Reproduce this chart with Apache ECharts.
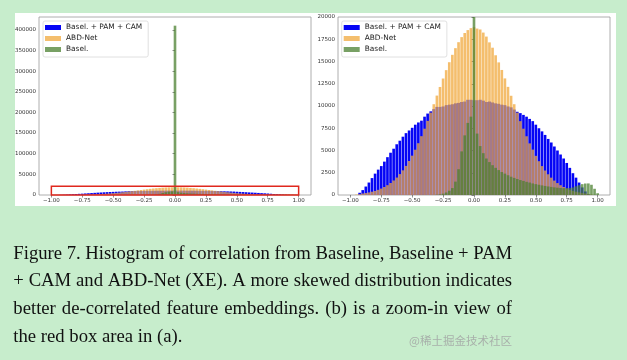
<!DOCTYPE html>
<html>
<head>
<meta charset="utf-8">
<script src="https://cdn.jsdelivr.net/npm/echarts@6/dist/echarts.min.js"></script>
<style>html,body{margin:0;padding:0;background:#c7edcc;}#c{width:627px;height:360px;}</style>
</head>
<body>
<div id="c"></div>
<script>
// ---- data ----
const BIN_FIRST = -1.0;   // centre of first bin
const BIN_W = 0.025;      // bin width
const seriesNames = ['Basel. + PAM + CAM', 'ABD-Net', 'Basel.'];
// counts per bin, bins centred at -1.000, -0.975, ..., 1.000 (81 bins)
const baselPamCam = [
  0, 0, 0, 250, 550, 950, 1400, 1900, 2400, 2850,
  3250, 3750, 4250, 4750, 5200, 5700, 6100, 6550, 6950, 7250,
  7550, 7900, 8150, 8350, 8800, 9150, 9400, 9650, 9900, 9900,
  9950, 10100, 10150, 10200, 10300, 10350, 10450, 10500, 10700, 10700,
  10650,
  10650, 10700, 10600, 10450, 10500, 10400, 10300, 10250, 10150, 10100,
  9950, 9850, 9600, 9350, 9200, 9000, 8800, 8550, 8300, 7900,
  7500, 7150, 6750, 6300, 5900, 5450, 5000, 4550, 4100, 3600,
  3050, 2450, 1950, 1400, 850, 400, 100, 0, 0, 0
];
const abdNet = [
  0, 0, 50, 100, 170, 220, 290, 370, 460, 580,
  725, 900, 1100, 1350, 1630, 1960, 2350, 2770, 3270, 3820,
  4420, 5090, 5820, 6610, 7450, 8330, 9250, 10200, 11170, 12140,
  13090, 14030, 14920, 15750, 16500, 17170, 17740, 18200, 18530, 18750,
  18850,
  18700, 18600, 18250, 17800, 17150, 16550, 15700, 14900, 14050, 13100,
  12150, 11150, 10200, 9250, 8300, 7450, 6600, 5800, 5100, 4400,
  3800, 3250, 2750, 2330, 1950, 1620, 1340, 1100, 900, 720,
  580, 460, 370, 290, 220, 170, 100, 50, 0, 0
];
const basel = [
  0, 0, 0, 0, 0, 0, 0, 0, 0, 0,
  0, 0, 0, 0, 0, 0, 0, 0, 0, 0,
  0, 0, 0, 0, 0, 0, 0, 0, 30, 70,
  150, 280, 480, 780, 1500, 2900, 4900, 6700, 8100, 8800,
  410000,
  6900, 5500, 4700, 4100, 3700, 3350, 3050, 2800, 2580, 2400,
  2220, 2050, 1920, 1800, 1680, 1580, 1480, 1400, 1300, 1220,
  1150, 1080, 1020, 960, 910, 860, 820, 790, 770, 760,
  780, 850, 980, 1100, 1220, 1290, 1300, 1150, 700, 200
];
const redBox = [-1, 1, 0, 21000];   // x0, x1, y0, y1 on panel (a)
const xTicks = [-1, -0.75, -0.5, -0.25, 0, 0.25, 0.5, 0.75, 1];
const yTicksA = [0, 50000, 100000, 150000, 200000, 250000, 300000, 350000, 400000];
const yTicksB = [0, 2500, 5000, 7500, 10000, 12500, 15000, 17500, 20000];
const captionLines = [
  'Figure 7. Histogram of correlation from Baseline, Baseline + PAM',
  '+ CAM and ABD-Net (XE). A more skewed distribution indicates',
  'better de-correlated feature embeddings.  (b) is a zoom-in view of',
  'the red box area in (a).'
];
const watermark = '@稀土掘金技术社区';

// ---- styles ----
const colors = ['#0505f5', 'rgba(240,168,60,0.75)', 'rgba(75,128,48,0.75)'];

function toData(arr) { return arr.map((v, k) => [BIN_FIRST + k * BIN_W, v]); }

function histRender(color) {
  return function (params, api) {
    const c = api.value(0), y = api.value(1);
    if (!y) return null;
    const p0 = api.coord([c - BIN_W / 2, 0]);
    const p1 = api.coord([c + BIN_W / 2, y]);
    const cs = params.coordSys;
    const top = Math.max(p1[1], cs.y);
    return {
      type: 'rect',
      shape: { x: p0[0] + 0.22, y: top, width: p1[0] - p0[0] - 0.44, height: p0[1] - top },
      style: { fill: color }
    };
  };
}

const axisFont = { fontFamily: 'DejaVu Sans', fontSize: 5.5, color: '#333' };
function fmtX(v) { return (v < 0 ? '\u2212' : '') + Math.abs(v).toFixed(2); }

function xAxis(gi) {
  return {
    type: 'value', gridIndex: gi, min: -1.1, max: 1.1,
    axisLine: { show: false }, splitLine: { show: false },
    axisTick: { show: true, customValues: xTicks, length: 2.5, lineStyle: { color: '#444', width: 0.6 } },
    axisLabel: Object.assign({ customValues: xTicks, margin: 3, formatter: fmtX }, axisFont)
  };
}
function yAxis(gi, max, ticks) {
  return {
    type: 'value', gridIndex: gi, min: 0, max: max,
    axisLine: { show: false }, splitLine: { show: false },
    axisTick: { show: true, customValues: ticks, length: 2.5, lineStyle: { color: '#444', width: 0.6 } },
    axisLabel: Object.assign({ customValues: ticks, margin: 3, formatter: v => String(v) }, axisFont)
  };
}

const series = [];
[0, 1].forEach(gi => {
  [baselPamCam, abdNet, basel].forEach((arr, si) => {
    series.push({
      type: 'custom', name: seriesNames[si], xAxisIndex: gi, yAxisIndex: gi,
      itemStyle: { color: colors[si] }, clip: true,
      encode: { x: 0, y: 1 }, data: toData(arr), renderItem: histRender(colors[si]), z: 2 + si
    });
  });
});
series.push({
  type: 'custom', xAxisIndex: 0, yAxisIndex: 0, z: 10,
  data: [redBox], encode: { x: [0, 1], y: [2, 3] },
  renderItem: function (params, api) {
    const a = api.coord([api.value(0), api.value(2)]);
    const b = api.coord([api.value(1), api.value(3)]);
    return { type: 'rect', shape: { x: a[0], y: b[1], width: b[0] - a[0], height: a[1] - b[1] },
      style: { fill: null, stroke: '#e0281e', lineWidth: 1.5 } };
  }
});

function legend(left) {
  return {
    left: left, top: 21, orient: 'vertical', icon: 'rect', itemWidth: 16, itemHeight: 5, itemGap: 0,
    padding: [1, 6, 2, 2], borderColor: '#d8d8d8', borderWidth: 0.8, borderRadius: 2, backgroundColor: '#fff',
    textStyle: { fontFamily: 'DejaVu Sans', fontSize: 7.4, color: '#222', lineHeight: 11 },
    data: seriesNames, selectedMode: false
  };
}

// caption, justified word by word
const capFont = 18.7;
const capLeft = 13.3, capRight = 512;
const capBaselines = [259.3, 287.1, 314.9, 342.7];
const mctx = document.createElement('canvas').getContext('2d');
mctx.font = capFont + 'px "Liberation Serif"';
const graphics = [
  { type: 'rect', z: -10, shape: { x: 15, y: 13, width: 601, height: 193 }, style: { fill: '#fff' } }
];
captionLines.forEach((line, li) => {
  const words = line.split(/ +/);
  const ws = words.map(w => mctx.measureText(w).width);
  const total = ws.reduce((a, b) => a + b, 0);
  const justify = li < captionLines.length - 1;
  const gap = justify ? (capRight - capLeft - total) / (words.length - 1) : mctx.measureText(' ').width;
  let x = capLeft;
  words.forEach((w, wi) => {
    graphics.push({ type: 'text', x: x, y: capBaselines[li] - capFont * 0.3,
      style: { text: w, fontFamily: 'Liberation Serif', fontSize: capFont, fill: '#111', verticalAlign: 'middle', align: 'left' } });
    x += ws[wi] + gap;
  });
});
graphics.push({ type: 'text', x: 512, y: 340.7,
  style: { text: watermark, fontFamily: 'Noto Sans CJK SC', fontSize: 11.5, fill: '#a8b0aa', align: 'right', verticalAlign: 'middle' } });

const chart = echarts.init(document.getElementById('c'), null, { renderer: 'canvas', width: 627, height: 360 });
chart.setOption({
  backgroundColor: '#c7edcc',
  animation: false,
  grid: [
    { left: 39, top: 17, width: 272, height: 178, show: true, borderColor: '#999', borderWidth: 0.8, backgroundColor: '#fff' },
    { left: 338, top: 17, width: 272, height: 178, show: true, borderColor: '#999', borderWidth: 0.8, backgroundColor: '#fff' }
  ],
  xAxis: [xAxis(0), xAxis(1)],
  yAxis: [yAxis(0, 431000, yTicksA), yAxis(1, 20000, yTicksB)],
  legend: [legend(43), legend(341.7)],
  series: series,
  graphic: { elements: graphics }
});
</script>
</body>
</html>
